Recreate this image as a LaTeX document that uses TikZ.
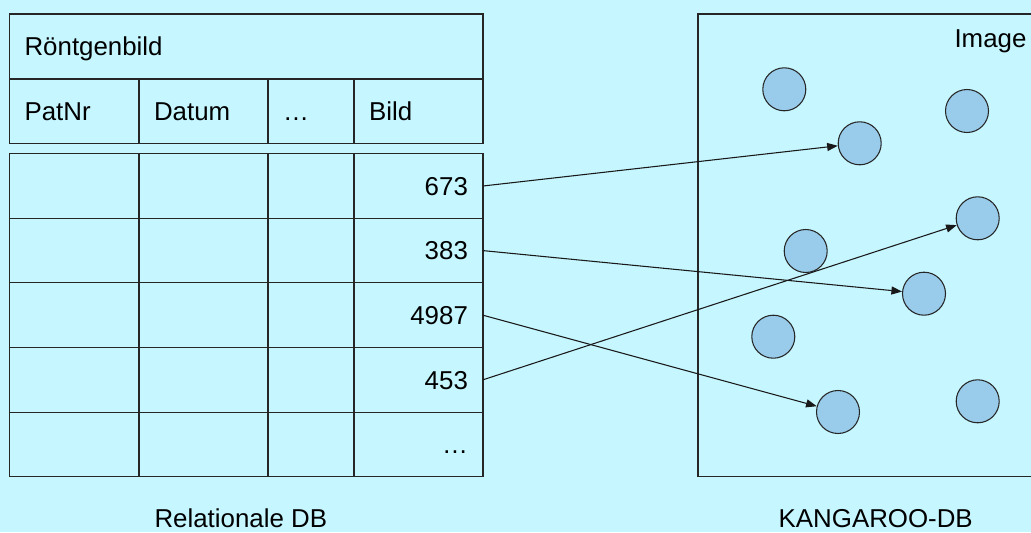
\documentclass[tikz,border=0pt]{standalone}
\usepackage{fontspec}
\setmainfont{Liberation Sans}
\usetikzlibrary{positioning,arrows.meta}

\definecolor{bgCyan}{RGB}{198,246,255}
\definecolor{imgBlue}{RGB}{153,204,234}

\begin{document}
\begin{tikzpicture}[x=0.75pt, y=-0.75pt,
    font=\fontsize{19.4}{23}\selectfont,
    dbCell/.style={draw=black!85, line width=0.8pt, minimum height=48.45pt, inner xsep=11.3pt, inner ysep=0pt, outer sep=0pt, text height=15pt, text depth=1.1pt, anchor=west},
    colPat/.style={dbCell, text width=74.5pt, align=left},
    colDat/.style={dbCell, text width=74.15pt, align=left},
    colDots/.style={dbCell, text width=41.9pt, align=left},
    colBild/.style={dbCell, text width=74.15pt, align=right},
    imgObj/.style={draw=black!85, line width=0.8pt, circle, fill=imgBlue, inner sep=0pt, minimum size=32.25pt},
    refArrow/.style={-{Triangle[length=8pt, width=6pt]}, line width=0.8pt, black!90}]

    \fill[bgCyan] (0,0) rectangle (1031,532);
    \useasboundingbox (0,0) rectangle (1031,532);

    % relation schema
    \node[dbCell, anchor=north west, minimum height=48.75pt, text width=332.5pt, align=left] (title) at (9.5,14) {Röntgenbild};
    \node[colPat, anchor=north west, minimum height=48.4pt] (hPat) at (title.south west) {PatNr};
    \node[colDat, minimum height=48.4pt, right=0pt of hPat] (hDat) {Datum};
    \node[colDots, minimum height=48.4pt, right=0pt of hDat] (hDots) {…};
    \node[colDat, minimum height=48.4pt, right=0pt of hDots] (hBild) {Bild};

    % tuples
    \foreach \v [count=\r] in {673,383,4987,453,…} {
        \pgfmathsetmacro\rowTop{153.7+64.6*(\r-1)}
        \node[colPat, anchor=north west] (pat\r) at (9.5,\rowTop) {};
        \node[colDat, right=0pt of pat\r] (dat\r) {};
        \node[colDots, right=0pt of dat\r] (dots\r) {};
        \node[colBild, right=0pt of dots\r] (bild\r) {\v};
    }

    % image store
    \node[draw=black!85, line width=0.8pt, outer sep=0pt, anchor=north west, minimum width=260pt, minimum height=347pt] (store) at (698,14) {};
    \node[anchor=base east, inner sep=0pt] (imgLabel) at (1026.7,47.5) {Image};

    \node[imgObj] (o1) at (784.3,89.3) {};
    \node[imgObj] (o2) at (967,111) {};
    \node[imgObj] (o3) at (859.7,143.3) {};
    \node[imgObj] (o4) at (977.7,218.3) {};
    \node[imgObj] (o5) at (805.7,251) {};
    \node[imgObj] (o6) at (924,293.7) {};
    \node[imgObj] (o7) at (773.3,336.7) {};
    \node[imgObj] (o8) at (838,412) {};
    \node[imgObj] (o9) at (977.7,401.3) {};

    % references
    \draw[refArrow] (bild1.east) -- (o3);
    \draw[refArrow] (bild2.east) -- (o6);
    \draw[refArrow] (bild3.east) -- (o8);
    \draw[refArrow] (bild4.east) -- (o4);

    \node[anchor=base, inner sep=0pt] (relLabel) at (240.8,527) {Relationale DB};
    \node[anchor=base, inner sep=0pt] (kanLabel) at (875.7,527) {KANGAROO-DB};
\end{tikzpicture}
\end{document}
